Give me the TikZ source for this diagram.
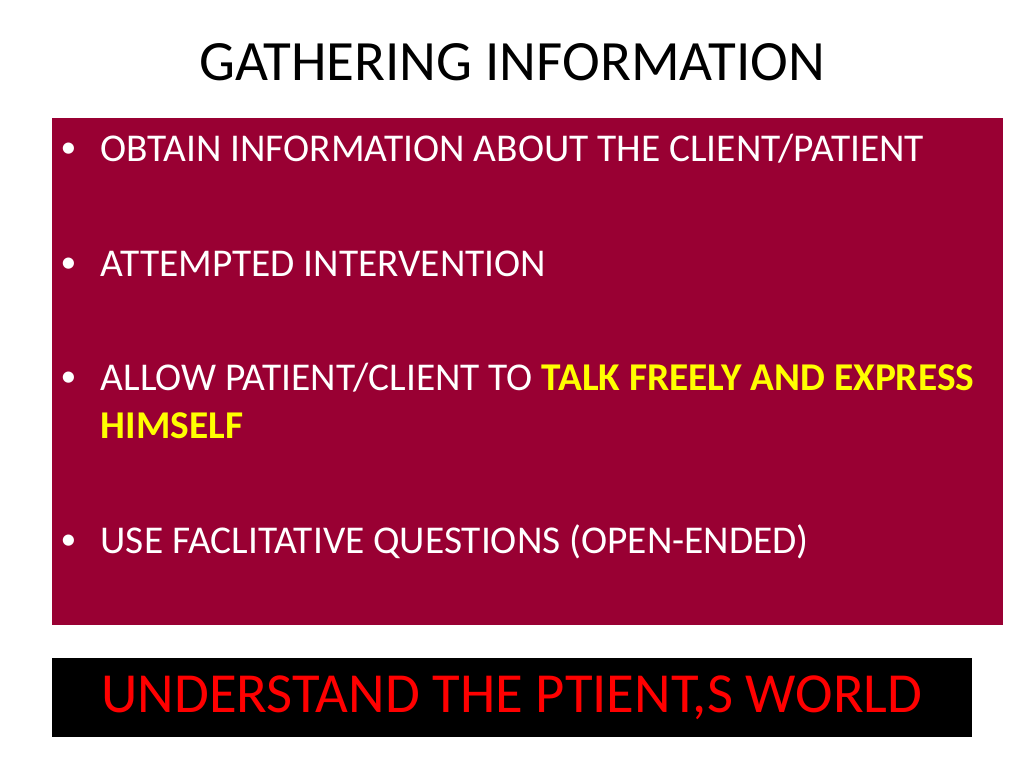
\documentclass[tikz,border=0pt]{standalone}
\usepackage{fontspec}
\setmainfont{Carlito}
\definecolor{slidered}{HTML}{990033}
\definecolor{hiyellow}{HTML}{FFFF00}
\definecolor{worldred}{HTML}{FF0000}
\tikzset{
  bullet/.style={anchor=base west, text=white, font=\fontsize{11.2pt}{14pt}\selectfont, inner sep=0pt},
  dot/.style={anchor=base west, text=white, font=\fontsize{9pt}{14pt}\selectfont, inner sep=0pt}
}
\begin{document}
\begin{tikzpicture}[x=0.01cm,y=-0.01cm]
  \useasboundingbox (0,0) rectangle (1024,768);
  \fill[white] (0,0) rectangle (1024,768);
  % title
  \node (title) at (512,62) {\fontsize{16.2pt}{20pt}\selectfont GATHERING INFORMATION};
  % red panel
  \fill[slidered] (52,118) rectangle (1003,625);
  \node[dot] (d1) at (60,158) {•};
  \node[bullet] (b1) at (100,162) {OBTAIN INFORMATION ABOUT THE CLIENT/PATIENT};
  \node[dot] (d2) at (60,273) {•};
  \node[bullet] (b2) at (100,277) {ATTEMPTED INTERVENTION};
  \node[dot] (d3) at (60,387) {•};
  \node[bullet] (b3) at (100,391) {ALLOW PATIENT/CLIENT TO \textcolor{hiyellow}{\bfseries TALK FREELY AND EXPRESS}};
  \node[bullet, text=hiyellow, font=\fontsize{11.2pt}{14pt}\selectfont\bfseries] (b3b) at (100,439) {HIMSELF};
  \node[dot] (d4) at (60,550) {•};
  \node[bullet] (b4) at (100,554) {USE FACLITATIVE QUESTIONS (OPEN-ENDED)};
  % black banner
  \fill[black] (52,658) rectangle (972,737);
  \node[text=worldred, font=\fontsize{16.1pt}{20pt}\selectfont] (world) at (512,698) {UNDERSTAND THE PTIENT,S WORLD};
\end{tikzpicture}
\end{document}
